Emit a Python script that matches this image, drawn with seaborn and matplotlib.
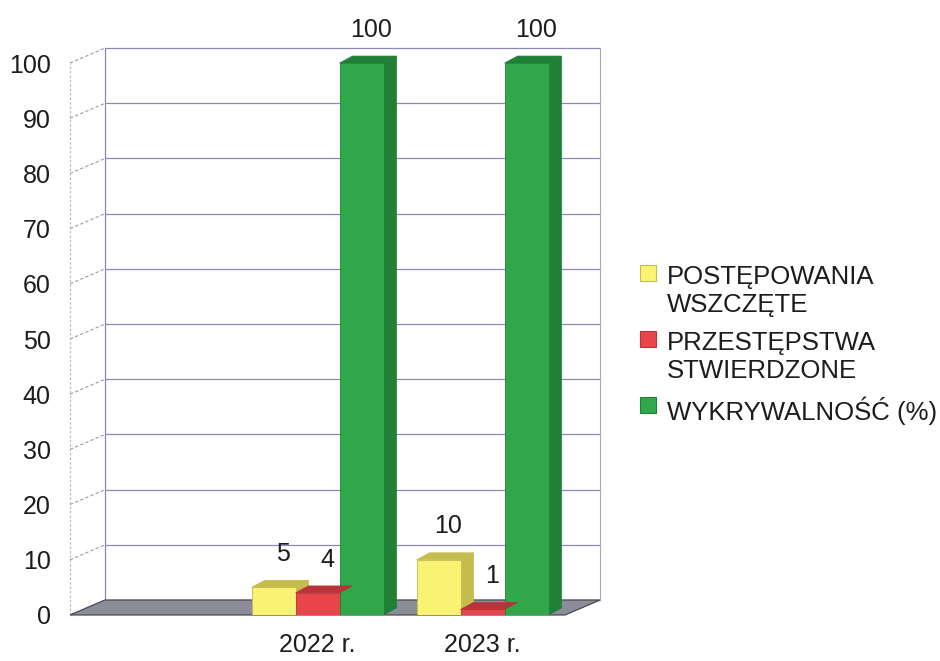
import matplotlib.pyplot as plt
import numpy as np
import pandas as pd
import seaborn as sns
from matplotlib.patches import Polygon, Rectangle

# values
years = ["2022 r.", "2023 r."]
x_order = ["", "2022 r.", "2023 r."]  # first slot is empty in the original
series = ["POSTĘPOWANIA\nWSZCZĘTE", "PRZESTĘPSTWA\nSTWIERDZONE", "WYKRYWALNOŚĆ (%)"]
postepowania = [5, 10]
przestepstwa = [4, 1]
wykrywalnosc = [100, 100]

front_colors = ["#f9f272", "#e8444a", "#31a74a"]
side_colors = ["#c4bc4e", "#b8343a", "#1f8036"]
grid_color = "#8a8ab6"
text_color = "#1c1c1c"


def px_to_data(ax, dx_px, dy_px):
    origin = ax.transData.transform((0, 0))
    x, y = ax.transData.inverted().transform(origin + np.array([dx_px, dy_px]))
    return x, y


sns.set_theme(style="white")
plt.rcParams["font.family"] = ["Liberation Sans", "DejaVu Sans"]

df = pd.DataFrame(
    {
        "year": years * 3,
        "series": np.repeat(series, len(years)),
        "value": postepowania + przestepstwa + wykrywalnosc,
    }
)

fig = plt.figure(figsize=(9.4, 6.61), dpi=100)
ax = fig.add_axes([0.0745, 0.0696, 0.5266, 0.835])

sns.barplot(
    data=df,
    x="year",
    y="value",
    hue="series",
    order=x_order,
    hue_order=series,
    palette=dict(zip(series, front_colors)),
    saturation=1,
    width=0.8,
    errorbar=None,
    legend=False,
    zorder=4,
    ax=ax,
)
ax.set_xlim(-0.5, 2.5)
ax.set_ylim(0, 100)

# box walls and floor
wdx, wdy = px_to_data(ax, 35, 15)
x0, x1 = -0.5, 2.5
for v in range(0, 101, 10):
    ax.plot([x0 + wdx, x1 + wdx], [v + wdy, v + wdy], color=grid_color, lw=0.9,
            zorder=1, clip_on=False)
    ax.plot([x0, x0 + wdx], [v, v + wdy], color="#9a9aa6", lw=0.8, ls=(0, (3, 2)),
            zorder=1, clip_on=False)
ax.plot([x0, x0], [0, 100], color="#b0b0b8", lw=0.8, ls=(0, (2, 2)), zorder=1, clip_on=False)
ax.plot([x0 + wdx, x0 + wdx], [wdy, 100 + wdy], color=grid_color, lw=0.9, zorder=1, clip_on=False)
ax.plot([x1 + wdx, x1 + wdx], [wdy, 100 + wdy], color="#a8a8c0", lw=0.8, zorder=1, clip_on=False)
ax.add_patch(Polygon([(x0, 0), (x1, 0), (x1 + wdx, wdy), (x0 + wdx, wdy)],
                     closed=True, fc="#8d8d99", ec="#4a4a55", lw=0.9, zorder=2, clip_on=False))

# faux 3D faces on bars + value labels
bdx, bdy = px_to_data(ax, 13, 7)
values = [postepowania, przestepstwa, wykrywalnosc]
for i, container in enumerate(ax.containers):
    for bar, val in zip(container, values[i]):
        bx, bw, bh = bar.get_x(), bar.get_width(), bar.get_height()
        bar.set_edgecolor(side_colors[i])
        bar.set_linewidth(0.6)
        top = [(bx, bh), (bx + bw, bh), (bx + bw + bdx, bh + bdy), (bx + bdx, bh + bdy)]
        side = [(bx + bw, 0), (bx + bw + bdx, bdy), (bx + bw + bdx, bh + bdy), (bx + bw, bh)]
        ax.add_patch(Polygon(side, closed=True, fc=side_colors[i], ec=side_colors[i],
                             lw=0.5, zorder=3, clip_on=False))
        ax.add_patch(Polygon(top, closed=True, fc=side_colors[i], ec=side_colors[i],
                             lw=0.5, zorder=5, clip_on=False))
        ax.annotate(str(val), (bx + bw / 2, bh), xytext=(7, 24), textcoords="offset points",
                    ha="center", va="center", fontsize=18, color=text_color,
                    zorder=6, annotation_clip=False)

ax.set_xticks(range(len(x_order)))
ax.set_xticklabels(x_order)
ax.set_yticks(range(0, 101, 10))
ax.tick_params(axis="x", length=0, pad=13, labelsize=18, colors=text_color)
ax.tick_params(axis="y", length=0, pad=14, labelsize=18, colors=text_color)
ax.set_xlabel("")
ax.set_ylabel("")
ax.set_facecolor("none")
ax.grid(False)
for spine in ax.spines.values():
    spine.set_visible(False)

handles = [Rectangle((0, 0), 1, 1, fc=fc, ec=ec, lw=0.8) for fc, ec in zip(front_colors, side_colors)]
leg = fig.legend(
    handles,
    series,
    loc="center left",
    bbox_to_anchor=(0.681, 0.478),
    frameon=False,
    fontsize=18.5,
    handlelength=0.6,
    handleheight=0.6,
    handletextpad=0.45,
    labelspacing=0.55,
    borderpad=0,
    borderaxespad=0,
)
for text in leg.get_texts():
    text.set_color(text_color)
try:
    for row in leg._legend_handle_box.get_children()[0].get_children():
        row.align = "top"
except Exception:
    pass

fig.savefig("out.png", dpi=100)
